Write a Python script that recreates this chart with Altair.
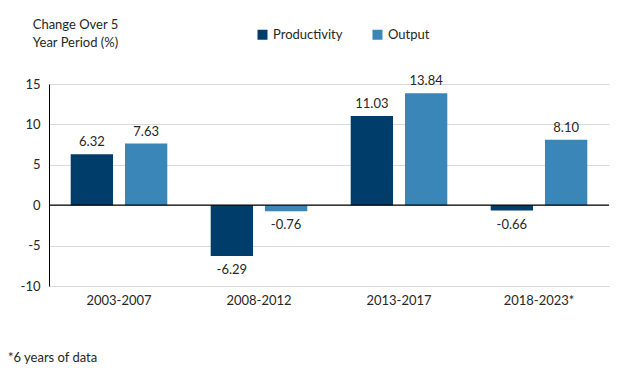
import altair as alt
import pandas as pd

periods = ["2003-2007", "2008-2012", "2013-2017", "2018-2023*"]
productivity = [6.32, -6.29, 11.03, -0.66]
output = [7.63, -0.76, 13.84, 8.10]
series = ["Productivity", "Output"]
colors = ["#003d6b", "#3b86b8"]
y_ticks = [-10, -5, 0, 5, 10, 15]
y_title = ["Change Over 5", "Year Period (%)"]
footnote = "*6 years of data"

rows = []
for i, p in enumerate(periods):
    rows.append({"period": p, "series": "Productivity", "value": productivity[i]})
    rows.append({"period": p, "series": "Output", "value": output[i]})
df = pd.DataFrame(rows)

FONT = "Lato"
TXT = "#262626"

x = alt.X("period:N", sort=periods, title=None,
          scale=alt.Scale(paddingInner=0.31, paddingOuter=0.155),
          axis=alt.Axis(labelAngle=0, ticks=False, domain=False, labelPadding=8,
                        labelFontSize=13, labelFont=FONT, labelColor=TXT))
xo = alt.XOffset("series:N", sort=series, scale=alt.Scale(paddingInner=0.22, paddingOuter=0))
y = alt.Y("value:Q", scale=alt.Scale(domain=[-10, 15], nice=False),
          axis=alt.Axis(values=y_ticks, ticks=False, domainColor="black", domainWidth=1,
                        gridColor="#d9d9d9", labelPadding=9, labelFontSize=13,
                        labelFont=FONT, labelColor=TXT,
                        labelExpr="replace(datum.label, '\u2212', '-')",
                        title=y_title, titleAngle=0, titleAlign="center", titleBaseline="top",
                        titleX=26, titleY=-66, titleFont=FONT, titleFontSize=13,
                        titleFontWeight="normal", titleColor=TXT, titleLineHeight=18))
color = alt.Color("series:N", sort=series,
                  scale=alt.Scale(domain=series, range=colors),
                  legend=alt.Legend(title=None, orient="none", direction="horizontal",
                                    legendX=207, legendY=-56, symbolType="square",
                                    symbolSize=100, symbolStrokeWidth=0, labelFont=FONT,
                                    labelFontSize=13, labelColor=TXT, columnPadding=28,
                                    labelOffset=4))

base = alt.Chart(df).transform_calculate(
    label="replace(format(datum.value, '.2f'), '\u2212', '-')"
)
bars = base.mark_bar().encode(x=x, xOffset=xo, y=y, color=color)
pos = base.transform_filter("datum.value >= 0").mark_text(
    baseline="bottom", dy=-5, font=FONT, fontSize=13, color=TXT
).encode(x=x, xOffset=xo, y="value:Q", text="label:N")
neg = base.transform_filter("datum.value < 0").mark_text(
    baseline="top", dy=8, font=FONT, fontSize=13, color=TXT
).encode(x=x, xOffset=xo, y="value:Q", text="label:N")
zero = alt.Chart(pd.DataFrame({"z": [0]})).mark_rule(color="black", strokeWidth=1.2).encode(y="z:Q")

chart = alt.layer(bars, zero, pos, neg).properties(
    width=560, height=202,
    title=alt.TitleParams(footnote, orient="bottom", anchor="start", frame="group",
                          dx=-41, offset=45, font=FONT, fontSize=13, fontWeight="normal",
                          color=TXT),
    autosize=alt.AutoSizeParams(type="none"),
    padding={"left": 41, "top": 76, "right": 7, "bottom": 84},
).configure_view(stroke=None)

chart.save("out.html", embed_options={"renderer": "svg", "actions": False})
